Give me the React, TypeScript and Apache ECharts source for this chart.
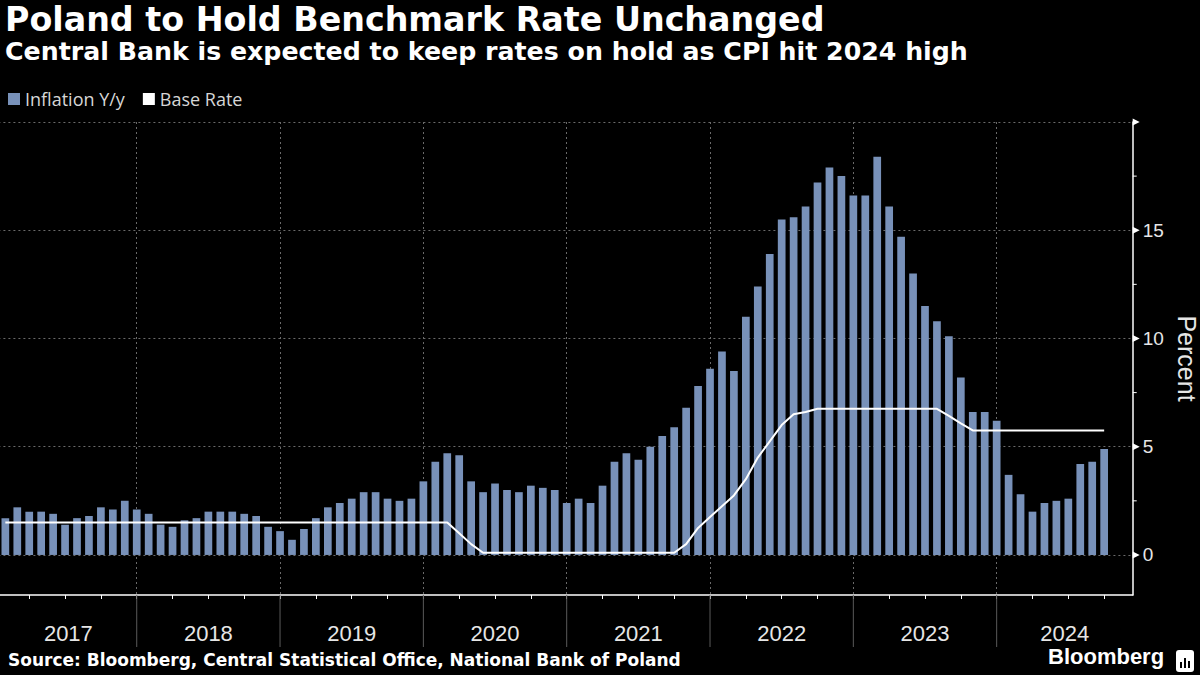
import React, { useEffect, useRef } from "react";
import * as echarts from "echarts";

// ---- Data (month-end values, Jan 2017 .. Sep 2024) ----
const years = ["2017", "2018", "2019", "2020", "2021", "2022", "2023", "2024"];

const inflation2017 = [1.7, 2.2, 2.0, 2.0, 1.9, 1.4, 1.7, 1.8, 2.2, 2.1, 2.5, 2.1];
const inflation2018 = [1.9, 1.4, 1.3, 1.6, 1.7, 2.0, 2.0, 2.0, 1.9, 1.8, 1.3, 1.1];
const inflation2019 = [0.7, 1.2, 1.7, 2.2, 2.4, 2.6, 2.9, 2.9, 2.6, 2.5, 2.6, 3.4];
const inflation2020 = [4.3, 4.7, 4.6, 3.4, 2.9, 3.3, 3.0, 2.9, 3.2, 3.1, 3.0, 2.4];
const inflation2021 = [2.6, 2.4, 3.2, 4.3, 4.7, 4.4, 5.0, 5.5, 5.9, 6.8, 7.8, 8.6];
const inflation2022 = [9.4, 8.5, 11.0, 12.4, 13.9, 15.5, 15.6, 16.1, 17.2, 17.9, 17.5, 16.6];
const inflation2023 = [16.6, 18.4, 16.1, 14.7, 13.0, 11.5, 10.8, 10.1, 8.2, 6.6, 6.6, 6.2];
const inflation2024 = [3.7, 2.8, 2.0, 2.4, 2.5, 2.6, 4.2, 4.3, 4.9];

const baseRate2017 = [1.5, 1.5, 1.5, 1.5, 1.5, 1.5, 1.5, 1.5, 1.5, 1.5, 1.5, 1.5];
const baseRate2018 = [1.5, 1.5, 1.5, 1.5, 1.5, 1.5, 1.5, 1.5, 1.5, 1.5, 1.5, 1.5];
const baseRate2019 = [1.5, 1.5, 1.5, 1.5, 1.5, 1.5, 1.5, 1.5, 1.5, 1.5, 1.5, 1.5];
const baseRate2020 = [1.5, 1.5, 1.0, 0.5, 0.1, 0.1, 0.1, 0.1, 0.1, 0.1, 0.1, 0.1];
const baseRate2021 = [0.1, 0.1, 0.1, 0.1, 0.1, 0.1, 0.1, 0.1, 0.1, 0.5, 1.25, 1.75];
const baseRate2022 = [2.25, 2.75, 3.5, 4.5, 5.25, 6.0, 6.5, 6.6, 6.75, 6.75, 6.75, 6.75];
const baseRate2023 = [6.75, 6.75, 6.75, 6.75, 6.75, 6.75, 6.75, 6.42, 6.08, 5.75, 5.75, 5.75];
const baseRate2024 = [5.75, 5.75, 5.75, 5.75, 5.75, 5.75, 5.75, 5.75, 5.75];

const inflation = [
  ...inflation2017, ...inflation2018, ...inflation2019, ...inflation2020,
  ...inflation2021, ...inflation2022, ...inflation2023, ...inflation2024,
];
const baseRate = [
  ...baseRate2017, ...baseRate2018, ...baseRate2019, ...baseRate2020,
  ...baseRate2021, ...baseRate2022, ...baseRate2023, ...baseRate2024,
];

const yLabelValues = [0, 5, 10, 15];
const yMajorValues = [0, 5, 10, 15, 20];
const yMinorValues = [2.5, 7.5, 12.5, 17.5];

const TITLE = "Poland to Hold Benchmark Rate Unchanged";
const SUBTITLE = "Central Bank is expected to keep rates on hold as CPI hit 2024 high";
const SOURCE = "Source: Bloomberg, Central Statistical Office, National Bank of Poland";

const BAR_COLOR = "#7891b9";
const GRID_COLOR = "#6a6a6a";
const TEXT_COLOR = "#e6e6e6";

export default function App() {
  const ref = useRef<HTMLDivElement>(null);

  useEffect(() => {
    const el = ref.current!;
    const chart = echarts.init(el, null, { renderer: "svg" });

    const X_MIN = 0;
    const X_MAX = 95.39;
    const Y_MIN = -1.85;
    const Y_MAX = 20;
    const GRID_LEFT = -6.6;
    const GRID_RIGHT = 67.3;

    const barData = inflation.map((v, i) => [i + 1, v]);
    const lineData = baseRate.map((v, i) => [i + 1, v]);
    const boundaries = years.slice(1).map((_, i) => (i + 1) * 12);
    const visibleStart = -GRID_LEFT / ((1200 - GRID_RIGHT - GRID_LEFT) / (X_MAX - X_MIN));
    const labelPos = years.map((_, i) => {
      const a = Math.max(i * 12, visibleStart);
      const b = Math.min((i + 1) * 12, X_MAX);
      return (a + b) / 2;
    });
    const quarterTicks: number[] = [];
    for (let m = 3; m <= inflation.length; m += 3) quarterTicks.push(m);

    const option: any = {
      animation: false,
      backgroundColor: "#000",
      grid: {
        left: GRID_LEFT,
        right: GRID_RIGHT,
        top: 122,
        bottom: 80,
        containLabel: false,
        outerBoundsMode: "none",
      },
      legend: {
        left: 8,
        top: 90,
        padding: 0,
        icon: "rect",
        itemWidth: 12,
        itemHeight: 12,
        itemGap: 18,
        textStyle: { color: "#d6d6d6", fontSize: 18, fontFamily: "Open Sans" },
        data: ["Inflation Y/y", "Base Rate"],
      },
      xAxis: [
        {
          type: "value",
          min: X_MIN,
          max: X_MAX,
          position: "bottom",
          axisLine: { show: true, onZero: false, lineStyle: { color: "#ffffff", width: 1.5 } },
          axisTick: { show: true, customValues: quarterTicks, length: 4, lineStyle: { color: "#ffffff", width: 1 } },
          axisLabel: { show: false },
          splitLine: { show: false },
        },
        {
          type: "value",
          min: X_MIN,
          max: X_MAX,
          position: "bottom",
          axisLine: { show: false, onZero: false },
          axisTick: { show: false, customValues: boundaries },
          axisLabel: {
            show: true,
            customValues: labelPos,
            margin: 27,
            color: TEXT_COLOR,
            fontSize: 22,
            fontFamily: "Liberation Sans",
            formatter: (v: number) => years[Math.min(Math.floor(v / 12), years.length - 1)],
          },
          splitLine: { show: true, lineStyle: { color: GRID_COLOR, width: 1, type: [2, 3] } },
        },
      ],
      yAxis: {
        type: "value",
        min: Y_MIN,
        max: Y_MAX,
        position: "right",
        name: "Percent",
        nameLocation: "middle",
        nameRotate: -90,
        nameGap: 41,
        nameTextStyle: { color: TEXT_COLOR, fontSize: 25, fontFamily: "Liberation Sans" },
        axisLine: { show: true, onZero: false, lineStyle: { color: "#ffffff", width: 1.5 } },
        axisTick: { show: false, customValues: yMajorValues },
        axisLabel: {
          show: true,
          customValues: yLabelValues,
          margin: 10,
          color: TEXT_COLOR,
          fontSize: 19,
          fontFamily: "Liberation Sans",
        },
        splitLine: { show: true, lineStyle: { color: GRID_COLOR, width: 1, type: [2, 3] } },
      },
      series: [
        {
          name: "Inflation Y/y",
          type: "bar",
          xAxisIndex: 0,
          data: barData,
          barWidth: 7.7,
          itemStyle: { color: BAR_COLOR },
        },
        {
          name: "Base Rate",
          type: "line",
          xAxisIndex: 0,
          data: lineData,
          symbol: "none",
          lineStyle: { color: "#ffffff", width: 2 },
          itemStyle: { color: "#ffffff" },
          z: 5,
        },
      ],
    };

    chart.setOption(option);

    const graphics: any[] = [];
    yMajorValues.forEach((v) => {
      const p = chart.convertToPixel({ gridIndex: 0 }, [X_MAX, v]) as number[];
      graphics.push({
        type: "polygon",
        shape: { points: [[p[0], p[1] - 3.5], [p[0] + 7, p[1]], [p[0], p[1] + 3.5]] },
        style: { fill: "#ffffff" },
        z: 10,
      });
    });
    yMinorValues.forEach((v) => {
      const p = chart.convertToPixel({ gridIndex: 0 }, [X_MAX, v]) as number[];
      graphics.push({
        type: "line",
        shape: { x1: p[0], y1: p[1], x2: p[0] + 4, y2: p[1] },
        style: { stroke: "#ffffff", lineWidth: 1 },
        z: 10,
      });
    });
    boundaries.forEach((b) => {
      const p = chart.convertToPixel({ gridIndex: 0 }, [b, Y_MIN]) as number[];
      graphics.push({
        type: "line",
        shape: { x1: p[0], y1: p[1], x2: p[0], y2: p[1] + 52 },
        style: { stroke: "#5a5a5a", lineWidth: 1 },
        z: 1,
      });
    });
    graphics.push({
      type: "text",
      left: 5,
      top: 3,
      style: { text: TITLE, fill: "#ffffff", fontSize: 33.3, fontWeight: "bold", fontFamily: "DejaVu Sans" },
    });
    graphics.push({
      type: "text",
      left: 5,
      top: 39,
      style: { text: SUBTITLE, fill: "#ffffff", fontSize: 25.25, fontWeight: "bold", fontFamily: "DejaVu Sans" },
    });
    graphics.push({
      type: "text",
      left: 8,
      top: 651,
      style: { text: SOURCE, fill: "#ffffff", fontSize: 17, fontWeight: "bold", fontFamily: "DejaVu Sans" },
    });
    graphics.push({
      type: "text",
      left: 1048,
      top: 645,
      style: { text: "Bloomberg", fill: "#ffffff", fontSize: 22, fontWeight: "bold", fontFamily: "Liberation Sans" },
    });
    graphics.push({
      type: "group",
      left: 1176,
      top: 650,
      children: [
        { type: "rect", shape: { x: 0, y: 0, width: 18, height: 22, r: 3 }, style: { fill: "#ffffff" } },
        { type: "rect", shape: { x: 4, y: 12, width: 2, height: 6 }, style: { fill: "#000000" } },
        { type: "rect", shape: { x: 8, y: 8, width: 2, height: 10 }, style: { fill: "#000000" } },
        { type: "rect", shape: { x: 12, y: 11, width: 2, height: 7 }, style: { fill: "#000000" } },
      ],
    });

    chart.setOption({ graphic: graphics });

    return () => {
      chart.dispose();
    };
  }, []);

  return (
    <div
      ref={ref}
      style={{ position: "fixed", left: 0, top: 0, width: 1200, height: 675, background: "#000" }}
    />
  );
}
